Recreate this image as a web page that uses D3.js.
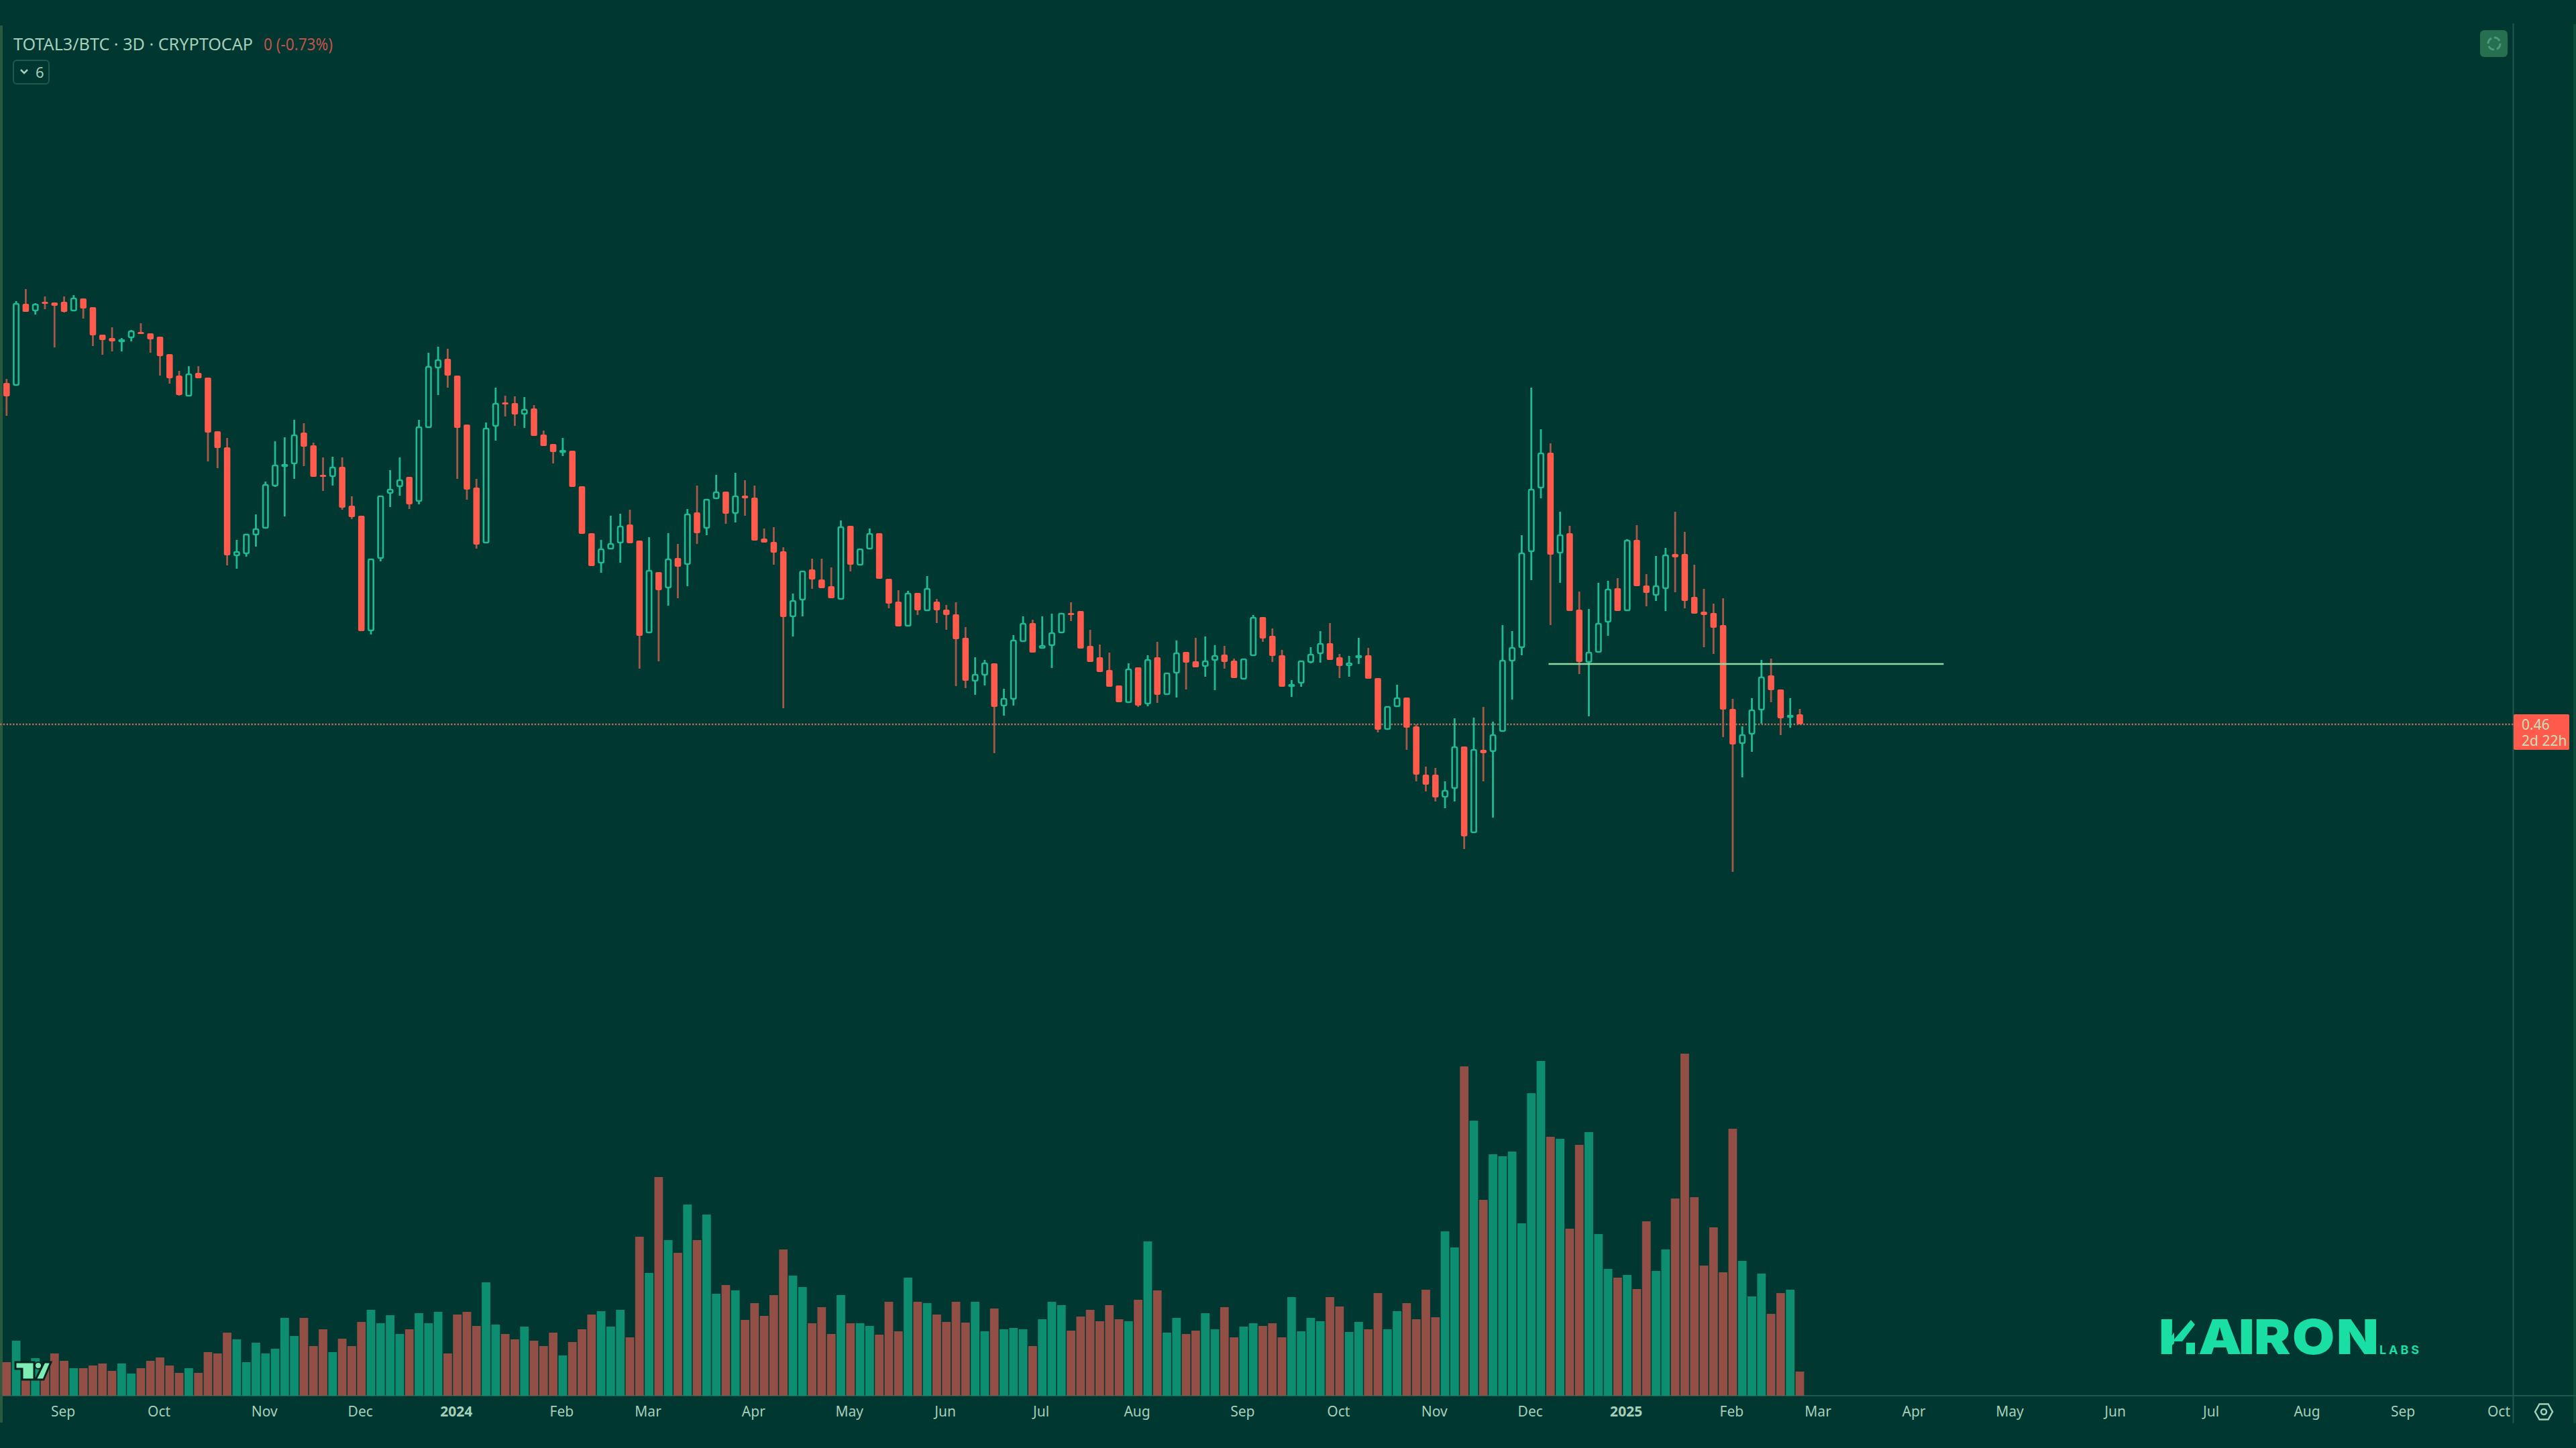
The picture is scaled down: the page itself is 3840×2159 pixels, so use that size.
<!DOCTYPE html>
<html>
<head>
<meta charset="utf-8">
<script src="https://cdn.jsdelivr.net/npm/d3@7/dist/d3.min.js"></script>
<style>
html,body{margin:0;padding:0;background:#003731;}
svg{display:block;}
text{font-family:"Noto Sans",sans-serif;}
</style>
</head>
<body>
<svg id="chart" width="3840" height="2159"></svg>
<script>
// Prices are in thousandths (460 = 0.46)
const opens = [
969,965,1087,1076,1090,1089,1090,1076,1095,1082,
1041,1036,1032,1036,1045,1043,1038,1012,980,949,
984,977,897,873,711,714,742,752,815,846,
848,895,876,832,829,844,786,771,599,707,
804,814,829,792,902,991,1005,980,907,813,
730,904,940,939,922,931,892,878,868,868,
815,745,700,721,730,758,734,596,687,663,
708,698,776,752,796,807,774,801,798,737,
732,718,620,645,691,676,666,646,756,697,
721,745,677,643,606,656,629,643,631,624,
589,524,533,551,487,497,583,611,573,577,
596,626,629,577,560,541,518,492,545,490,
560,504,536,568,554,546,555,564,555,527,
562,620,592,563,516,521,552,565,581,560,
547,559,563,529,452,486,500,457,385,385,
351,364,427,298,422,419,449,554,574,717,
812,865,715,745,631,552,567,612,663,629,
735,667,652,662,714,714,650,628,626,608,
483,431,445,481,533,512,471,475];
const highs = [
975,1091,1109,1088,1098,1089,1098,1100,1095,1082,
1041,1052,1036,1048,1058,1043,1038,1012,987,994,
994,977,897,887,735,744,773,822,882,888,
914,909,880,858,859,858,800,771,707,801,
839,858,829,914,1014,1023,1020,980,907,826,
910,962,950,949,948,936,898,878,887,868,
815,745,735,771,774,780,734,739,687,745,
729,781,816,796,832,807,835,824,816,752,
754,724,655,689,707,707,694,764,756,722,
752,745,677,660,659,656,681,647,638,642,
605,560,556,551,513,593,621,616,621,625,
626,642,629,601,579,567,518,551,545,563,
583,537,585,568,589,591,578,577,558,558,
623,620,603,571,526,555,575,599,611,565,
562,589,574,529,487,519,500,460,397,395,
375,469,427,470,486,464,608,599,742,962,
900,879,777,756,658,632,671,674,678,736,
757,684,711,723,777,747,698,662,640,648,
498,457,499,556,558,512,499,483];
const lows = [
920,965,1075,1071,1079,1022,1074,1076,1065,1024,
1011,1016,1016,1031,1042,1014,980,968,950,949,
976,852,842,697,692,710,725,752,814,770,
826,845,829,808,816,780,766,599,594,703,
784,801,781,788,902,951,962,826,795,722,
730,883,919,905,902,890,875,849,860,814,
744,696,686,721,701,730,543,596,554,637,
648,666,729,742,796,759,761,771,734,731,
698,484,591,621,662,663,648,646,688,697,
721,677,633,606,606,623,629,611,601,517,
514,504,518,417,473,488,583,567,573,544,
596,614,573,553,538,516,493,492,486,487,
492,504,500,512,545,531,511,543,529,527,
562,583,553,516,501,516,551,552,556,529,
531,550,528,448,452,486,422,375,360,345,
335,345,274,298,375,321,449,497,563,675,
797,608,671,629,535,472,567,592,629,629,
666,636,644,629,657,633,625,575,565,441,
240,381,419,461,493,444,455,460];
const closes = [
949,1088,1075,1087,1087,1084,1075,1096,1080,1040,
1033,1031,1034,1047,1043,1034,1009,976,951,983,
976,895,872,712,718,744,752,818,847,848,
892,874,829,829,844,783,769,599,707,801,
811,825,788,904,994,1004,980,902,810,728,
902,939,938,922,930,890,875,866,869,814,
744,696,722,730,756,730,592,690,660,707,
695,774,745,796,807,774,801,797,734,731,
716,620,645,689,676,663,648,755,698,722,
745,677,640,606,656,630,663,630,623,587,
525,535,552,486,499,586,611,567,578,597,
626,625,573,553,538,516,493,543,488,557,
504,537,567,552,545,555,563,553,529,558,
620,588,562,516,520,555,565,581,556,547,
552,563,528,452,487,500,455,385,370,351,
362,427,293,423,417,445,556,575,716,811,
865,713,743,629,553,568,611,662,629,735,
666,656,667,713,709,644,625,623,604,482,
430,445,482,531,511,469,474,460];
const volumes = [
50,82,45,56,40,63,52,41,41,45,
48,37,48,33,41,52,57,45,34,41,
34,65,63,94,84,50,79,63,70,116,
89,116,74,99,65,85,74,110,128,108,
120,92,99,123,108,125,63,121,125,104,
169,106,92,84,103,82,74,94,60,80,
99,121,126,103,128,87,237,183,326,232,
213,285,232,270,152,165,157,113,138,119,
150,218,179,162,108,132,92,150,108,108,
104,91,140,96,176,140,138,121,110,140,
109,140,96,130,99,101,99,74,114,140,
135,97,118,128,111,135,114,111,143,230,
157,94,116,92,97,123,99,132,87,103,
108,104,108,87,147,96,116,111,147,133,
95,110,99,153,99,126,138,114,158,117,
245,221,491,410,292,360,357,364,257,451,
499,386,383,249,374,393,241,189,176,180,
159,260,186,218,294,510,296,194,251,184,
398,201,148,182,122,153,158,36];
const tickBars = [6,16,27,37,47,58,67,78,88,98,108,118,129,139,149,159,169,180,189,199,209,220,230,240,250,260];
const tickLabels = ["Sep","Oct","Nov","Dec","2024","Feb","Mar","Apr","May","Jun","Jul","Aug","Sep","Oct","Nov","Dec","2025","Feb","Mar","Apr","May","Jun","Jul","Aug","Sep","Oct"];
const lastPrice = 460;
const levelPrice = 550;
const levelBars = [160.8, 202];

const BG="#003731", UP="#1fba93", DOWN="#ff5a4b", DOWNWICK="#a95749",
      VUP="#0e8e70", VDOWN="#934f45", TXT="#a6cfb9", GRID="#1d5a4d", BRAND="#19dfa5";

const W=3840,H=2159, PLOT_R=3746.5, AXIS_Y=2081;
const svg=d3.select("#chart");
svg.append("rect").attr("width",W).attr("height",H).attr("fill",BG);

const x=d3.scaleLinear().domain([0,260]).range([9.8,3726.5]);
const y=d3.scaleLinear().domain([0,1540]).range([1540,0]);
const v=d3.scaleLinear().domain([0,510]).range([AXIS_Y,AXIS_Y-510]);

const bars=d3.range(opens.length).map(i=>({i,o:opens[i],h:highs[i],l:lows[i],c:closes[i],vol:volumes[i],up:closes[i]>=opens[i]}));

// frame
svg.append("rect").attr("x",0).attr("y",38).attr("width",4).attr("height",2083).attr("fill","#2a5b3f");
svg.append("rect").attr("x",3836).attr("y",36).attr("width",4).attr("height",2086).attr("fill","#0c4a3c");
svg.append("line").attr("x1",PLOT_R).attr("x2",PLOT_R).attr("y1",35).attr("y2",2122).attr("stroke",GRID).attr("stroke-width",2);
svg.append("line").attr("x1",0).attr("x2",W).attr("y1",AXIS_Y).attr("y2",AXIS_Y).attr("stroke",GRID).attr("stroke-width",2);

// volume
svg.append("g").selectAll("rect").data(bars).join("rect")
  .attr("x",d=>x(d.i)-6.4).attr("width",12.8)
  .attr("y",d=>v(d.vol)).attr("height",d=>AXIS_Y-v(d.vol))
  .attr("fill",d=>d.up?VUP:VDOWN);

// last price line
svg.append("line").attr("x1",0).attr("x2",PLOT_R).attr("y1",y(lastPrice)).attr("y2",y(lastPrice))
  .attr("stroke","#b3705f").attr("stroke-width",2.4).attr("stroke-dasharray","2.4,2.4");

// candles
const cg=svg.append("g");
cg.selectAll("line").data(bars).join("line")
  .attr("x1",d=>x(d.i)).attr("x2",d=>x(d.i)).attr("y1",d=>y(d.h)).attr("y2",d=>y(d.l))
  .attr("stroke",d=>d.up?UP:DOWNWICK).attr("stroke-width",2.8);
cg.selectAll("rect").data(bars).join("rect")
  .attr("x",d=>x(d.i)-(d.up?3.7:4.8)).attr("width",d=>d.up?7.4:9.6)
  .attr("y",d=>y(Math.max(d.o,d.c))+(d.up?1:0))
  .attr("height",d=>Math.max(Math.abs(y(d.o)-y(d.c))-(d.up?2:0),d.up?2:3))
  .attr("rx",2)
  .attr("fill",d=>d.up?BG:DOWN)
  .attr("stroke",d=>d.up?UP:"none").attr("stroke-width",2.6);

// horizontal level
svg.append("line").attr("x1",x(levelBars[0])).attr("x2",x(levelBars[1])).attr("y1",y(levelPrice)).attr("y2",y(levelPrice))
  .attr("stroke","#8fdca3").attr("stroke-width",2.6);

// time axis
const axis=d3.axisBottom(x).tickValues(tickBars).tickSize(0).tickPadding(0)
  .tickFormat((d,i)=>tickLabels[i]);
const ax=svg.append("g").attr("transform","translate(-2,"+2112+")").call(axis);
ax.select(".domain").remove();
ax.selectAll("text").attr("y",0).attr("dy",0)
  .attr("fill",TXT)
  .style("font-family",'"Noto Sans",sans-serif').style("font-size","21px")
  .style("font-weight",(d,i)=>/^20/.test(tickLabels[i])?"700":"400");

// legend
svg.append("text").attr("x",20).attr("y",75).attr("fill",TXT).attr("font-size",26)
  .attr("textLength",357).attr("lengthAdjust","spacingAndGlyphs").text("TOTAL3/BTC · 3D · CRYPTOCAP");
svg.append("text").attr("x",393).attr("y",75).attr("fill","#c4524a").attr("font-size",26)
  .attr("textLength",103).attr("lengthAdjust","spacingAndGlyphs").text("0 (-0.73%)");
svg.append("rect").attr("x",20).attr("y",90).attr("width",53).attr("height",35).attr("rx",5)
  .attr("fill","none").attr("stroke","#1c5b4e").attr("stroke-width",2);
svg.append("path").attr("d","M31 104 L36 109 L41 104").attr("fill","none").attr("stroke",TXT).attr("stroke-width",2.5);
svg.append("text").attr("x",53).attr("y",116).attr("fill",TXT).attr("font-size",22).text("6");

// top right button
svg.append("rect").attr("x",3697).attr("y",45).attr("width",41).attr("height",40).attr("rx",6).attr("fill","#26704f");
svg.append("circle").attr("cx",3718).attr("cy",65).attr("r",9).attr("fill","none").attr("stroke","#4a9a80").attr("stroke-width",3).attr("stroke-dasharray","10,4");

// last price label
svg.append("rect").attr("x",3747).attr("y",1065).attr("width",83).attr("height",53).attr("rx",2).attr("fill",DOWN);
svg.append("text").attr("x",3759).attr("y",1088).attr("fill","#bfe0b8").attr("font-size",21).text("0.46");
svg.append("text").attr("x",3759).attr("y",1112).attr("fill","#bfe0b8").attr("font-size",21).text("2d 22h");

// settings icon
svg.append("path").attr("d","M3779 2105 L3785.5 2093.5 L3798.5 2093.5 L3805 2105 L3798.5 2116.5 L3785.5 2116.5 Z")
  .attr("fill","none").attr("stroke",TXT).attr("stroke-width",2.5);
svg.append("circle").attr("cx",3792).attr("cy",2105).attr("r",4).attr("fill","none").attr("stroke",TXT).attr("stroke-width",2.5);

// TV logo
const tv=svg.append("g").attr("transform","translate(22,2030)");
tv.append("path").attr("d","M1 1 H29 V27 H11 V11 H1 Z M44 1 H54 L43 27 H31 Z").attr("fill","#7eecb4").attr("stroke","#08241f").attr("stroke-width",3);
tv.append("circle").attr("cx",35).attr("cy",6).attr("r",5).attr("fill","#7eecb4").attr("stroke","#08241f").attr("stroke-width",2);

// brand
svg.append("text").attr("transform","translate(3218,2019) scale(1.15,1)")
  .attr("x","0 51.3 103.5 123.5 173 230.4").attr("y",0).attr("fill",BRAND)
  .style("font-family","Inter,sans-serif").style("font-weight",900).attr("font-size",71)
  .text("KAIRON");
// stylised K: mask the stock leg and arm, then draw the logo's own
svg.append("rect").attr("x",3241).attr("y",1962).attr("width",36).attr("height",60).attr("fill",BG);
svg.append("path").attr("d","M3240 1998 L3266 1968 L3272 1975 L3253 2000 L3240 2000 Z").attr("fill",BRAND);
svg.append("rect").attr("x",3259).attr("y",2002).attr("width",13).attr("height",17).attr("fill",BRAND);
svg.append("text").attr("x",3547).attr("y",2019).attr("fill",BRAND)
  .style("font-family","Inter,sans-serif").style("font-weight",700).attr("font-size",18)
  .attr("textLength",59).text("LABS");
</script>
</body>
</html>
